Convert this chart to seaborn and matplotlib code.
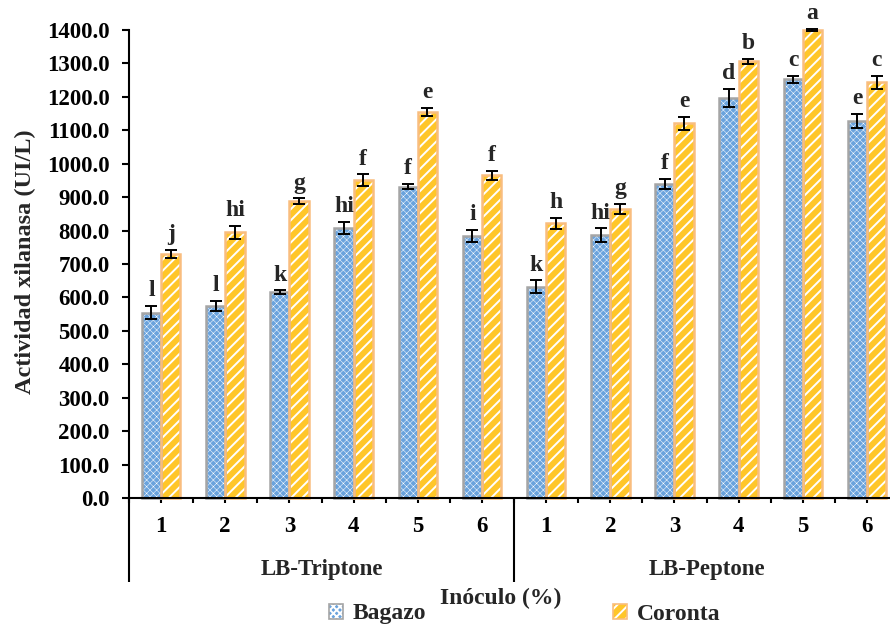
import numpy as np
import pandas as pd
import matplotlib
matplotlib.use("Agg")
import matplotlib.pyplot as plt
from matplotlib.patches import Rectangle, Patch
from matplotlib.legend_handler import HandlerTuple
import seaborn as sns

# ---- data -------------------------------------------------------------
medios = ["LB-Triptone", "LB-Peptone"]
inoculo = ["1", "2", "3", "4", "5", "6"]
sustratos = ["Bagazo", "Coronta"]

bagazo = [554, 574, 615, 808, 931, 784,
          632, 787, 939, 1196, 1252, 1128]
bagazo_err = [20, 16, 6, 18, 8, 18,
              19, 20, 16, 27, 11, 21]
bagazo_letras = ["l", "l", "k", "hi", "f", "i",
                 "k", "hi", "f", "d", "c", "e"]

coronta = [730, 795, 888, 951, 1155, 965,
           822, 864, 1121, 1306, 1400, 1243]
coronta_err = [13, 20, 8, 17, 12, 13,
               17, 15, 20, 7, 4, 20]
coronta_letras = ["j", "hi", "g", "f", "e", "f",
                  "h", "g", "e", "b", "a", "c"]

# ---- table for seaborn ----------------------------------------------
condiciones = [f"{m} {i}" for m in medios for i in inoculo]
df = pd.DataFrame({
    "condicion": condiciones * 2,
    "sustrato": ["Bagazo"] * len(condiciones) + ["Coronta"] * len(condiciones),
    "actividad": bagazo + coronta,
})

sns.set_theme(style="ticks")
plt.rcParams["font.family"] = ["Liberation Serif", "DejaVu Serif"]
plt.rcParams["font.weight"] = "bold"
plt.rcParams["hatch.linewidth"] = 1.4

fig = plt.figure(figsize=(8.9, 6.25), dpi=100)
ax = fig.add_axes([129 / 890, 1 - 498 / 625, 770 / 890, 468 / 625])

fill = {"Bagazo": "#6AA3DD", "Coronta": "#FFC629"}
edge = {"Bagazo": "#A5A5A5", "Coronta": "#F9BD7E"}
hatch = {"Bagazo": "xxxxx", "Coronta": "///"}
hatch_lw = {"Bagazo": 0.35, "Coronta": 1.4}

sns.barplot(data=df, x="condicion", y="actividad", hue="sustrato",
            order=condiciones, hue_order=sustratos, palette=fill,
            width=0.6, gap=0, saturation=1, errorbar=None, legend=False,
            ax=ax)

valores = {"Bagazo": bagazo, "Coronta": coronta}
errores = {"Bagazo": bagazo_err, "Coronta": coronta_err}
letras = {"Bagazo": bagazo_letras, "Coronta": coronta_letras}

for sust, cont in zip(sustratos, ax.containers):
    xs = []
    for bar in cont:
        bar.set_hatch(hatch[sust])
        bar.set_edgecolor("white")
        bar.set_linewidth(0)
        if hasattr(bar, "set_hatch_linewidth"):
            bar.set_hatch_linewidth(hatch_lw[sust])
        ax.add_patch(Rectangle((bar.get_x(), bar.get_y()), bar.get_width(),
                               bar.get_height(), facecolor="none",
                               edgecolor=edge[sust], linewidth=1.8, zorder=2.5,
                               clip_on=False))
        xs.append(bar.get_x() + bar.get_width() / 2)
    xs = np.array(xs)
    v = np.array(valores[sust])
    e = np.array(errores[sust])
    eb = ax.errorbar(xs, v, yerr=e, fmt="none", ecolor="black", elinewidth=1.4,
                     capsize=4.5, capthick=1.4, zorder=4)
    for art in eb.lines[1] + eb.lines[2]:
        art.set_clip_on(False)
    for x, top, lab in zip(xs, v + e, letras[sust]):
        ax.annotate(lab, (x, top), xytext=(0, 7), textcoords="offset points",
                    ha="center", va="baseline", fontsize=17, fontweight="bold",
                    annotation_clip=False)

# ---- axes -------------------------------------------------------------
ax.set_xlim(-0.5, 11.5)
ax.set_ylim(0, 1400)
ax.set_yticks(np.arange(0, 1401, 100))
ax.set_yticklabels([f"{t:.1f}" for t in np.arange(0, 1401, 100)])
ax.set_xticks(range(len(condiciones)))
ax.set_xticklabels(inoculo * len(medios))
ax.set_xticks(np.arange(-0.5, 11.6, 1.0), minor=True)
ax.tick_params(axis="y", direction="out", length=5, width=1.5, pad=9,
               labelsize=16.5, colors="black")
ax.tick_params(axis="x", which="both", direction="out", length=3.6, width=1.5,
               pad=9, labelsize=16.5, colors="black")
for lab in ax.get_xticklabels() + ax.get_yticklabels():
    lab.set_fontweight("bold")

for s in ["top", "right"]:
    ax.spines[s].set_visible(False)
for s in ["left", "bottom"]:
    ax.spines[s].set_linewidth(1.5)
    ax.spines[s].set_color("black")

ax.set_xlabel("")
ax.set_ylabel("Actividad xilanasa (UI/L)", fontsize=17.5, fontweight="bold")
ax.yaxis.set_label_coords(-0.121, 0.505)

# group separators and medium names below the axis
sep_tr = ax.get_xaxis_transform()
for xsep in [-0.5, 5.5, 11.5]:
    ax.plot([xsep, xsep], [0, -84 / 468], transform=sep_tr, color="black",
            lw=1.5, clip_on=False, solid_capstyle="butt")
for k, medio in enumerate(medios):
    ax.text(k * 6 + 2.5, -72 / 468, medio, transform=sep_tr, ha="center",
            va="center", fontsize=16.5, fontweight="bold")

fig.text(501 / 890, 1 - 598 / 625, "Inóculo (%)", ha="center", va="center",
         fontsize=17, fontweight="bold")

# legend entries: hatched swatch with its outline drawn on top
for sust, x0 in zip(sustratos, [329, 613]):
    h_fill = Patch(facecolor=fill[sust], edgecolor="white", hatch=hatch[sust],
                   linewidth=0)
    h_edge = Patch(facecolor="none", edgecolor=edge[sust], linewidth=1.2)
    fig.legend(handles=[(h_fill, h_edge)], labels=[sust], loc="center left",
               bbox_to_anchor=(x0 / 890, 1 - 614 / 625), frameon=False,
               borderpad=0, borderaxespad=0, handlelength=0.6,
               handleheight=0.6, handletextpad=0.4,
               handler_map={tuple: HandlerTuple(ndivide=1, pad=0)},
               prop={"size": 17, "weight": "bold"})

fig.savefig("out.png", dpi=100)
